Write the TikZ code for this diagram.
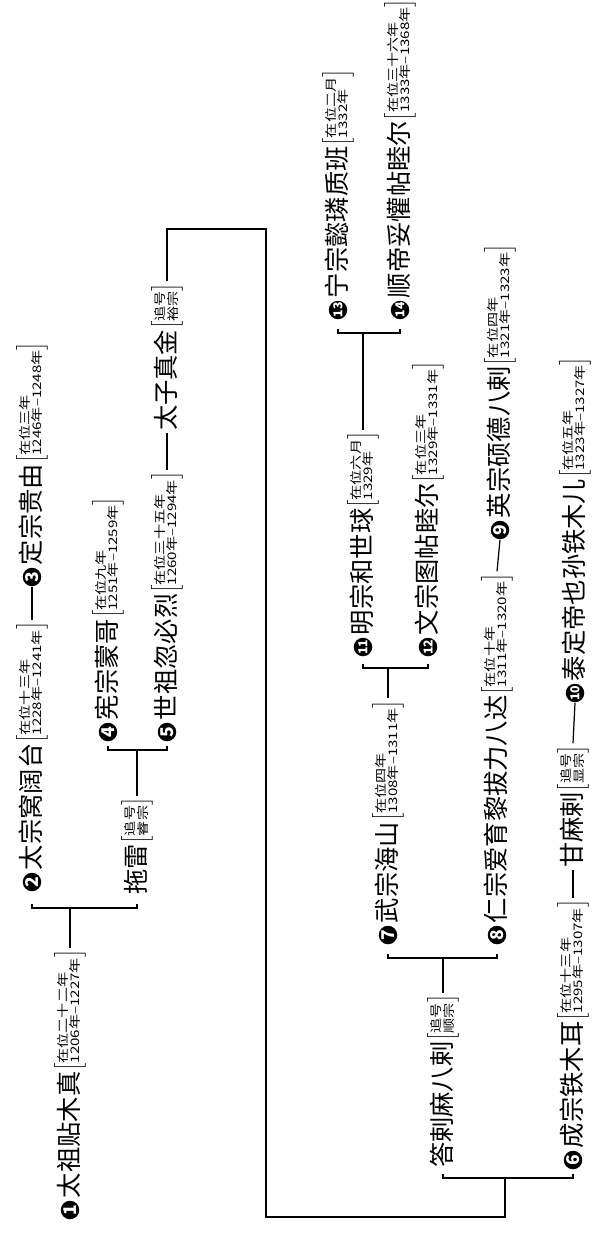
\documentclass[tikz,border=0pt]{standalone}
\usepackage{fontspec}
\setmainfont{Noto Sans CJK SC}
\usepackage{graphicx}
\usepackage{tikz}
\usetikzlibrary{calc}

\newcommand{\reign}[2]{{\fontsize{9}{9}\selectfont\raisebox{2.4pt}{$\left[\vcenter{\hbox{\scalebox{1}[0.78]{\fontsize{8.6}{8}\selectfont\renewcommand{\arraystretch}{0.82}\begin{tabular}{@{}l@{}}#1\\#2\end{tabular}}}}\right]$}}}

\tikzset{
	person/.style={rotate=90, anchor=west, inner sep=0.8pt, font=\fontsize{14.4}{16}\selectfont},
	badge/.style={circle, fill=black, text=white, inner sep=0pt, minimum size=0.37cm, rotate=90, font=\fontsize{10}{10}\selectfont\bfseries},
	badgetwo/.style={badge, font=\fontsize{7}{7}\selectfont\bfseries}
}

\begin{document}
\begin{tikzpicture}[x=0.02cm, y=-0.02cm, line width=0.7pt]
	\useasboundingbox (0,0) rectangle (594,1236);

	\draw (70,1210) node[badge] (b1) {1};
	\draw (b1.east) node[person] (p1) {太祖贴木真\reign{在位二十二年}{1206年–1227年}};

	\draw (32,882) node[badge] (b2) {2};
	\draw (b2.east) node[person] (p2) {太宗窝阔台\reign{在位十三年}{1228年–1241年}};
	\draw (32,577) node[badge] (b3) {3};
	\draw (b3.east) node[person] (p3) {定宗贵由\reign{在位三年}{1246年–1248年}};
	\draw (137,897) node[person] (tl) {拖雷\reign{追号}{睿宗}};

	\draw (108,732) node[badge] (b4) {4};
	\draw (b4.east) node[person] (p4) {宪宗蒙哥\reign{在位九年}{1251年–1259年}};
	\draw (167,732) node[badge] (b5) {5};
	\draw (b5.east) node[person] (p5) {世祖忽必烈\reign{在位三十五年}{1260年–1294年}};
	\draw (167,433) node[person] (zj) {太子真金\reign{追号}{裕宗}};

	\draw (443,1170) node[person] (dl) {答剌麻八剌\reign{追号}{顺宗}};
	\draw (573,1160) node[badge] (b6) {6};
	\draw (b6.east) node[person] (p6) {成宗铁木耳\reign{在位十三年}{1295年–1307年}};
	\draw (573,870) node[person] (gm) {甘麻剌\reign{追号}{显宗}};
	\draw (575,693) node[badgetwo] (b10) {10};
	\draw (b10.east) node[person] (p10) {泰定帝也孙铁木儿\reign{在位五年}{1323年–1327年}};

	\draw (388,935) node[badge] (b7) {7};
	\draw (b7.east) node[person] (p7) {武宗海山\reign{在位四年}{1308年–1311年}};
	\draw (497,935) node[badge] (b8) {8};
	\draw (b8.east) node[person] (p8) {仁宗爱育黎拔力八达\reign{在位十年}{1311年–1320年}};
	\draw (500,530) node[badge] (b9) {9};
	\draw (b9.east) node[person] (p9) {英宗硕德八剌\reign{在位四年}{1321年–1323年}};

	\draw (363,647) node[badgetwo] (b11) {11};
	\draw (b11.east) node[person] (p11) {明宗和世球\reign{在位六月}{1329年}};
	\draw (428,647) node[badgetwo] (b12) {12};
	\draw (b12.east) node[person] (p12) {文宗图帖睦尔\reign{在位三年}{1329年–1331年}};

	\draw (338,310) node[badgetwo] (b13) {13};
	\draw (b13.east) node[person] (p13) {宁宗懿璘质班\reign{在位二月}{1332年}};
	\draw (400,310) node[badgetwo] (b14) {14};
	\draw (b14.east) node[person] (p14) {顺帝妥懽帖睦尔\reign{在位三十六年}{1333年–1368年}};

	\coordinate (k1) at (0,908);
	\coordinate (k2) at (0,750);
	\coordinate (k3) at (0,1178);
	\coordinate (k4) at (0,958);
	\coordinate (k5) at (0,668);
	\coordinate (k6) at (0,333);
	\coordinate (c1) at (266,229);
	\coordinate (c2) at (266,1217);
	\coordinate (c3) at (505,1178);

	\draw (p1.east) -- (p1.east |- k1);
	\draw (b2 |- k1) ++(0,-4) -- ++(0,4) -- (tl |- k1) -- ++(0,-4);
	\draw (p2.east) -- (b3.west);
	\draw (tl.east) -- (tl.east |- k2);
	\draw (b4 |- k2) ++(0,-4) -- ++(0,4) -- (b5 |- k2) -- ++(0,-4);
	\draw (p5.east) -- (zj.west);

	\draw (zj.east) |- (c1) -- (c2) -| (c3);
	\draw (dl |- k3) ++(0,-4) -- ++(0,4) -- (b6 |- k3) -- ++(0,-4);
	\draw (p6.east) -- (gm.west);
	\draw (gm.east) -- (b10.west);
	\draw (dl.east) -- (dl.east |- k4);
	\draw (b7 |- k4) ++(0,-4) -- ++(0,4) -- (b8 |- k4) -- ++(0,-4);
	\draw (p8.east) -- (b9.west);
	\draw (p7.east) -- (p7.east |- k5);
	\draw (b11 |- k5) ++(0,-4) -- ++(0,4) -- (b12 |- k5) -- ++(0,-4);
	\draw (p11.east) -- (p11.east |- k6);
	\draw (b13 |- k6) ++(0,-4) -- ++(0,4) -- (b14 |- k6) -- ++(0,-4);
\end{tikzpicture}
\end{document}
